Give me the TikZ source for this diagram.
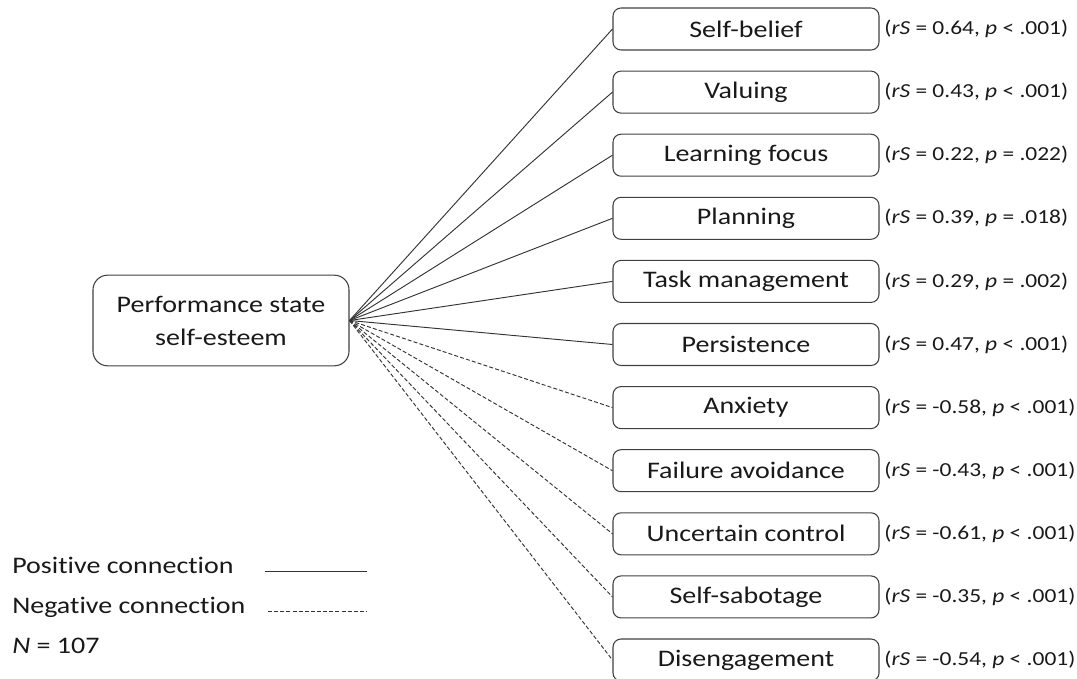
\documentclass[tikz,border=0pt]{standalone}
\usepackage{fontspec}
\setmainfont{Carlito}[FakeStretch=1.18,Ligatures={NoCommon}]
\begin{document}
\begin{tikzpicture}[x=0.75pt,y=-0.75pt,line join=round,
	box/.style={draw=black!75,line width=0.8pt,rounded corners=6pt,minimum width=199.5pt,minimum height=31.5pt,inner sep=0pt,text=black!90,font=\fontsize{17.8}{24.75}\selectfont},
	lbl/.style={anchor=west,inner sep=0pt,text=black!90,font=\fontsize{14.9}{17}\selectfont},
	key/.style={anchor=base west,inner sep=0pt,text=black!90,font=\fontsize{17.8}{20}\selectfont},
	posline/.style={draw=black!80,line width=0.7pt},
	negline/.style={draw=black!80,line width=0.7pt,dash pattern=on 3pt off 1.6pt}]
	\useasboundingbox (0,0) rectangle (1077,678);
	\node[box,minimum width=192pt,minimum height=68pt,rounded corners=11pt,align=center] (main) at (221,320.5) {Performance state\\self-esteem};
	\foreach \txt/\rs/\rel/\pv/\sty [count=\i from 0] in {
		Self-belief/0.64/</.001/posline,
		Valuing/0.43/</.001/posline,
		Learning focus/0.22/=/.022/posline,
		Planning/0.39/=/.018/posline,
		Task management/0.29/=/.002/posline,
		Persistence/0.47/</.001/posline,
		Anxiety/-0.58/</.001/negline,
		Failure avoidance/-0.43/</.001/negline,
		Uncertain control/-0.61/</.001/negline,
		Self-sabotage/-0.35/</.001/negline,
		Disengagement/-0.54/</.001/negline}{
		\node[box] (b\i) at (746,{29+63.1*\i}) {\txt};
		\node[lbl] (l\i) at ([xshift=3.5pt]b\i.east) {(\textit{rS} = \rs, \textit{p} \rel\ \pv)};
		\draw[\sty] (main.east) -- (b\i.west);
	}
	% legend
	\node[key] (kpos) at (12,573) {Positive connection};
	\node[key] (kneg) at (12,613) {Negative connection};
	\node[key] (kn) at (12,653) {\textit{N} = 107};
	\coordinate (p1) at (265,571); \coordinate (p2) at (367,571);
	\coordinate (n1) at (268,611); \coordinate (n2) at (367,611);
	\draw[posline] (p1) -- (p2);
	\draw[negline] (n1) -- (n2);
\end{tikzpicture}
\end{document}
